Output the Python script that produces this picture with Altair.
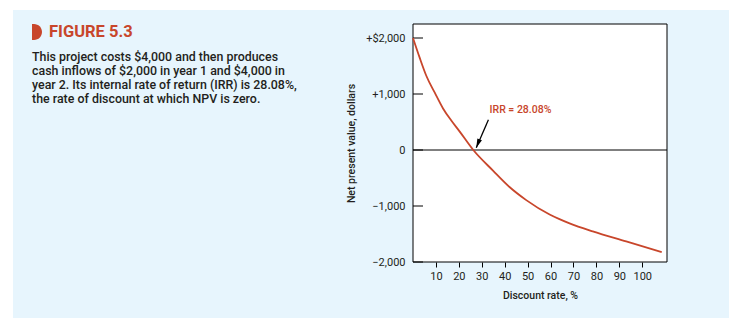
import altair as alt
import pandas as pd

# ---- data ----
rates = [0, 2.9, 5.8, 9.5, 13.1, 16.7, 20.3, 26.3, 34.9, 42.1, 49.4, 59.6, 63.9, 68.3, 78.4, 93.0, 108.5]
npv = [2000, 1649, 1326, 1023, 742, 526, 333, 0, -368, -661, -895, -1152, -1235, -1311, -1455, -1633, -1822]

x_ticks = [10, 20, 30, 40, 50, 60, 70, 80, 90, 100]
y_ticks = [-2000, -1000, 0, 1000, 2000]
y_tick_labels = ["\u22122,000", "\u22121,000", "0", "+1,000", "+$2,000"]

fig_title = "FIGURE 5.3"
caption_lines = [
    "This project costs $4,000 and then produces",
    "cash inflows of $2,000 in year 1 and $4,000 in",
    "year 2. Its internal rate of return (IRR) is 28.08%,",
    "the rate of discount at which NPV is zero.",
]
irr_label = "IRR = 28.08%"
x_title = "Discount rate, %"
y_title = "Net present value, dollars"

# annotation anchor points (rate %, npv)
arrow_tail = [32.9, 540]
arrow_tip = [27.6, 40]
label_at = [33.4, 720]

# ---- styling ----
RED = "#c8462b"
BLUE = "#e7f5fd"
INK = "#231f20"
SANS = "Roboto, Liberation Sans, sans-serif"
W, H = 254, 238

curve_df = pd.DataFrame({"rate": rates, "npv": npv})
one = alt.Data(values=[{}])

x_scale = alt.Scale(domain=[0, 110.8], nice=False, zero=False)
y_scale = alt.Scale(domain=[-2000, 2250], nice=False, zero=False)

label_expr = ""
for v, s in zip(y_ticks, y_tick_labels):
    label_expr += f"datum.value == {v} ? '{s}' : "
label_expr += "''"

x_axis = alt.Axis(
    values=x_ticks, title=x_title, grid=False, domain=False, ticks=True,
    tickSize=5, tickColor="black", labelPadding=3, titlePadding=9,
    labelFont=SANS, labelFontSize=11, labelColor=INK,
    titleFont=SANS, titleFontSize=10.5, titleFontWeight=500, titleColor=INK,
    zindex=1,
)
y_axis = alt.Axis(
    values=y_ticks, title=y_title, grid=False, domain=False, ticks=False,
    labelExpr=label_expr, labelPadding=8, titlePadding=9,
    labelFont=SANS, labelFontSize=11, labelColor=INK,
    titleFont=SANS, titleFontSize=10.5, titleFontWeight=500, titleColor=INK,
    zindex=1,
)


def X(field):
    return alt.X(field, scale=x_scale, axis=x_axis, title=x_title)


def Y(field):
    return alt.Y(field, scale=y_scale, axis=y_axis, title=y_title)


panel = alt.Chart(one).mark_rect(color=BLUE).encode(
    x=alt.value(-400), x2=alt.value(316), y=alt.value(-14), y2=alt.value(294)
)
plot_bg = alt.Chart(one).mark_rect(fill="white", stroke="black", strokeWidth=1).encode(
    x=alt.value(0), x2=alt.value(W), y=alt.value(0), y2=alt.value(H)
)

zero_df = pd.DataFrame({"v": [0]})
zero_line = alt.Chart(zero_df).mark_rule(color="black", strokeWidth=1).encode(y=Y("v:Q"))

ytick_df = pd.DataFrame({"v": y_ticks})
ytick_marks = alt.Chart(ytick_df).mark_rule(color="black", strokeWidth=1).encode(
    y=Y("v:Q"), x=alt.value(0), x2=alt.value(10)
)

curve = alt.Chart(curve_df).mark_line(color=RED, strokeWidth=1.8, interpolate="monotone").encode(
    x=X("rate:Q"), y=Y("npv:Q")
)

arrow_df = pd.DataFrame({"rate": [arrow_tail[0], arrow_tip[0]], "npv": [arrow_tail[1], arrow_tip[1]]})
arrow_line = alt.Chart(arrow_df).mark_line(color="black", strokeWidth=1.3).encode(
    x=X("rate:Q"), y=Y("npv:Q")
)
arrow_head = alt.Chart(pd.DataFrame({"rate": [arrow_tip[0]], "npv": [arrow_tip[1]]})).mark_point(
    shape="M0,0 L0.55,2 L-0.55,2 Z", size=81, filled=True, color="black", opacity=1, angle=202, strokeWidth=0
).encode(x=X("rate:Q"), y=Y("npv:Q"))

irr_text = alt.Chart(pd.DataFrame({"rate": [label_at[0]], "npv": [label_at[1]], "t": [irr_label]})).mark_text(
    align="left", baseline="middle", color=RED, font=SANS, fontSize=10.5, fontWeight=500
).encode(x=X("rate:Q"), y=Y("npv:Q"), text="t:N")

marker = alt.Chart(one).mark_point(
    shape="M-0.25,-1 L0,-1 A1,1 0 0 1 0,1 L-0.25,1 Z", size=256, filled=True,
    color=RED, opacity=1, strokeWidth=0
).encode(x=alt.value(-379), y=alt.value(8))

title_mark = alt.Chart(one).mark_text(
    text=fig_title, align="left", baseline="middle", color=RED, font=SANS, fontSize=16.5, fontWeight="bold"
).encode(x=alt.value(-364), y=alt.value(8))

caption_layers = []
for i, line in enumerate(caption_lines):
    caption_layers.append(
        alt.Chart(one).mark_text(
            text=line, align="left", baseline="middle", color=INK, font=SANS, fontSize=12.4, fontWeight=500
        ).encode(x=alt.value(-381), y=alt.value(32.7 + 14 * i))
    )

chart = alt.layer(
    panel, plot_bg, zero_line, ytick_marks, curve, arrow_line, arrow_head, irr_text,
    marker, title_mark, *caption_layers,
).properties(
    width=W, height=H,
    autosize=alt.AutoSizeParams(type="none"),
    padding={"left": 413, "top": 24, "right": 71, "bottom": 65},
    background="white",
).configure_view(stroke=None)

chart.save("out.html", embed_options={"renderer": "svg", "actions": False})
